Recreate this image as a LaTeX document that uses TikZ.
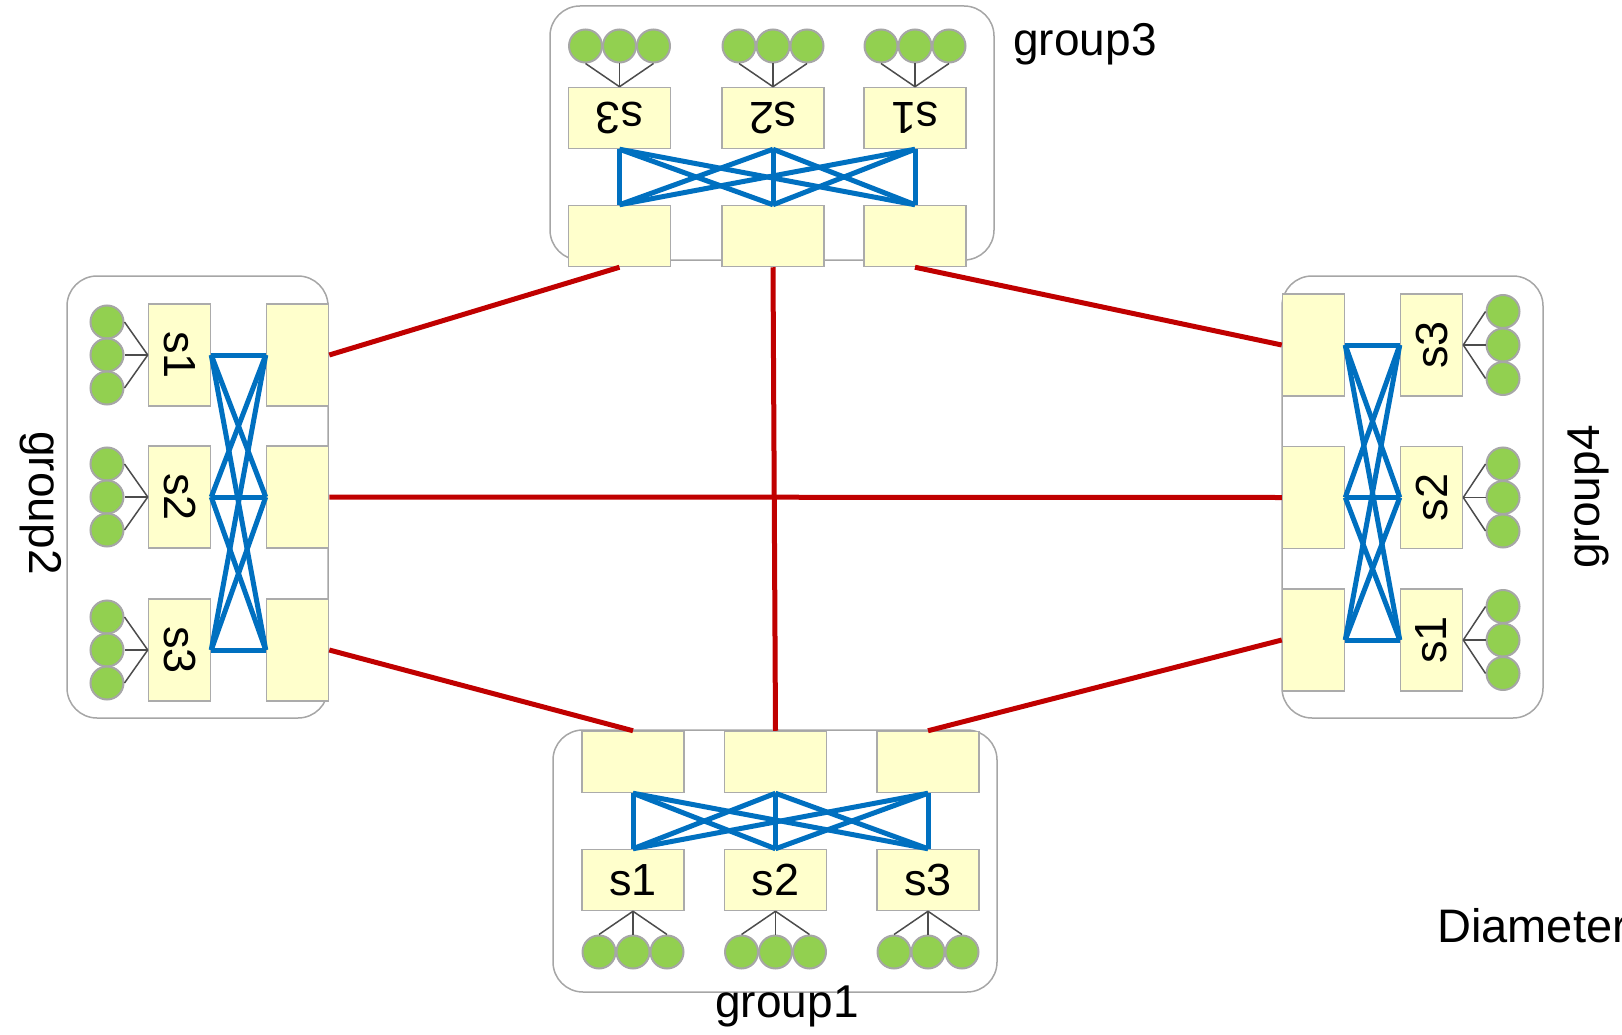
\documentclass[tikz,border=0pt]{standalone}
\usepackage{fontspec}
\setmainfont{Liberation Sans}
\usepackage{graphicx}
\usetikzlibrary{positioning}
\definecolor{swfill}{HTML}{FFFFCC}
\definecolor{hostgreen}{HTML}{92D050}
\definecolor{meshblue}{HTML}{0070C0}
\definecolor{globred}{HTML}{C00000}
\tikzset{
    sw/.style={draw=black!33, line width=1.5pt, fill=swfill, inner sep=0pt, font=\fontsize{45}{45}\selectfont},
    hsw/.style={sw, minimum width=102pt, minimum height=61pt},
    vsw/.style={sw, minimum width=62pt, minimum height=102pt},
    host/.style={circle, draw=black!35, line width=2pt, fill=hostgreen, minimum size=33pt, inner sep=0pt},
    grp/.style={draw=black!35, line width=1.5pt, rounded corners=30pt},
    mesh/.style={draw=meshblue, line width=5pt},
    glob/.style={draw=globred, line width=5pt},
    tie/.style={draw=black!70, line width=1.5pt},
    lbl/.style={font=\fontsize{46}{46}\selectfont, inner sep=0pt}
}

\begin{document}
\begin{tikzpicture}[x=1pt, y=-1pt, node distance=118pt]
  \useasboundingbox (0,0) rectangle (1622,1035);

  % group frames
  \draw[grp] (553,730) rectangle (997,992);
  \draw[grp] (67,276) rectangle (328,718);
  \draw[grp] (550,6) rectangle (994,260);
  \draw[grp] (1282,276) rectangle (1543,718);

  % group1 (bottom)
  \foreach \n/\x in {1/633,2/775.5,3/928} {
    \node (g1s\n) [hsw] at (\x,880) {s\n};
    \node (g1u\n) [hsw, above of=g1s\n] {};
    \foreach \k/\d in {1/-34,2/0,3/34}
      \node (g1h\n\k) [host] at (\x+\d,952) {};
  }
  % group3 (top, upside down)
  \foreach \n/\x in {3/619.5,2/773,1/915} {
    \node (g3s\n) [hsw] at (\x,118) {\rotatebox{180}{s\n}};
    \node (g3u\n) [hsw, below of=g3s\n] {};
    \foreach \k/\d in {1/-34,2/0,3/34}
      \node (g3h\n\k) [host] at (\x+\d,46) {};
  }
  % group2 (left)
  \foreach \n/\y in {1/355,2/497,3/650} {
    \node (g2s\n) [vsw] at (179.5,\y) {\rotatebox{-90}{s\n}};
    \node (g2u\n) [vsw, right of=g2s\n] {};
    \foreach \k/\d in {1/-33,2/0,3/33}
      \node (g2h\n\k) [host] at (107,\y+\d) {};
  }
  % group4 (right)
  \foreach \n/\y in {3/345,2/497.5,1/640} {
    \node (g4s\n) [vsw] at (1431.5,\y) {\rotatebox{90}{s\n}};
    \node (g4u\n) [vsw, left of=g4s\n] {};
    \foreach \k/\d in {1/-33.5,2/0,3/33.5}
      \node (g4h\n\k) [host] at (1503,\y+\d) {};
  }

  % hosts to switches, full mesh inside each group
  \foreach \i in {1,2,3} {
    \foreach \j in {1,2,3} {
      \draw[tie] (g1s\i.south) -- (g1h\i\j.north);
      \draw[tie] (g3s\i.north) -- (g3h\i\j.south);
      \draw[tie] (g2s\i.west) -- (g2h\i\j.east);
      \draw[tie] (g4s\i.east) -- (g4h\i\j.west);
      \draw[mesh] (g1u\i.south) -- (g1s\j.north);
      \draw[mesh] (g3u\i.north) -- (g3s\j.south);
      \draw[mesh] (g2u\i.west) -- (g2s\j.east);
      \draw[mesh] (g4u\i.east) -- (g4s\j.west);
    }
  }

  % global links
  \draw[glob] (g3u3.south) -- (g2u1.east);
  \draw[glob] (g3u2.south) -- (g1u2.north);
  \draw[glob] (g3u1.south) -- (g4u3.west);
  \draw[glob] (g2u2.east) -- (g4u2.west);
  \draw[glob] (g2u3.east) -- (g1u1.north);
  \draw[glob] (g1u3.north) -- (g4u1.west);

  % labels
  \node (t1) [lbl, anchor=base] at (787,1017) {group1};
  \node (t3) [lbl, anchor=base] at (1085,56) {group3};
  \node (t2) [lbl, rotate=-90, anchor=base] at (29,503) {group2};
  \node (t4) [lbl, rotate=90, anchor=base] at (1599,497) {group4};
  \node (dia) [lbl, anchor=base west, font=\fontsize{47}{47}\selectfont] at (1437,942) {Diameter};
\end{tikzpicture}
\end{document}
